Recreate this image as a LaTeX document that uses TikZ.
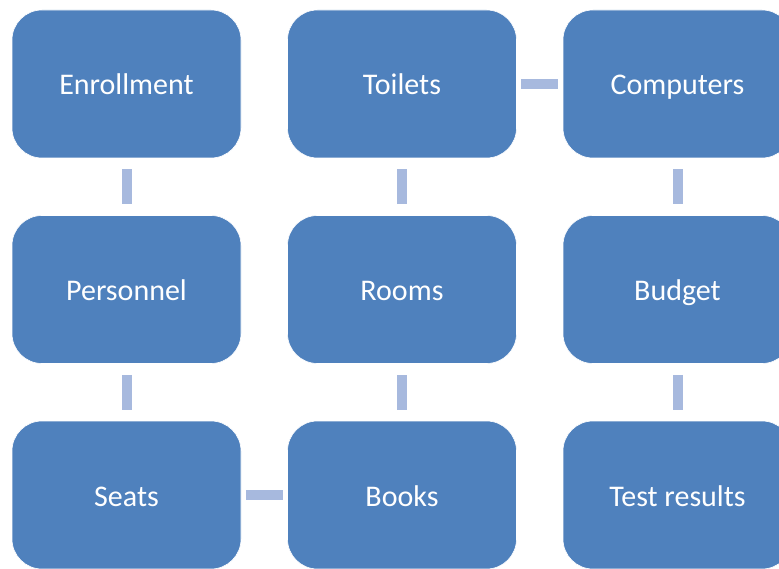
\documentclass[tikz,border=0pt]{standalone}
\usepackage{fontspec}
\setmainfont{Carlito}
\definecolor{boxb}{RGB}{79,129,189}
\definecolor{lnkb}{RGB}{167,185,222}
\tikzset{%
    box/.style={rectangle, rounded corners=30pt, fill=boxb, draw=white, line width=0.6pt, minimum width=229pt, minimum height=148pt, inner sep=0pt, text height=25pt, text depth=3pt, text=white, font=\fontsize{30}{36}\selectfont},
    lnkv/.style={draw=lnkb, line width=10pt, shorten <=11pt, shorten >=11pt},
    lnkh/.style={draw=lnkb, line width=10pt, shorten <=4.5pt, shorten >=4.5pt},
}
\begin{document}
\begin{tikzpicture}[x=1pt,y=-1pt]
    \useasboundingbox (0,0) rectangle (779,569);
    \clip (0,0) rectangle (779,569);
    \node[box] (enr) at (126.5,84) {Enrollment};
    \node[box] (toi) at (402,84) {Toilets};
    \node[box] (com) at (677.5,84) {Computers};
    \node[box] (per) at (126.5,289.5) {Personnel};
    \node[box] (roo) at (402,289.5) {Rooms};
    \node[box] (bud) at (677.5,289.5) {Budget};
    \node[box] (sea) at (126.5,495) {Seats};
    \node[box] (boo) at (402,495) {Books};
    \node[box] (tes) at (677.5,495) {Test results};
    \draw[lnkv] (enr) -- (per);
    \draw[lnkv] (per) -- (sea);
    \draw[lnkh] (sea) -- (boo);
    \draw[lnkv] (boo) -- (roo);
    \draw[lnkv] (roo) -- (toi);
    \draw[lnkh] (toi) -- (com);
    \draw[lnkv] (com) -- (bud);
    \draw[lnkv] (bud) -- (tes);
\end{tikzpicture}
\end{document}
